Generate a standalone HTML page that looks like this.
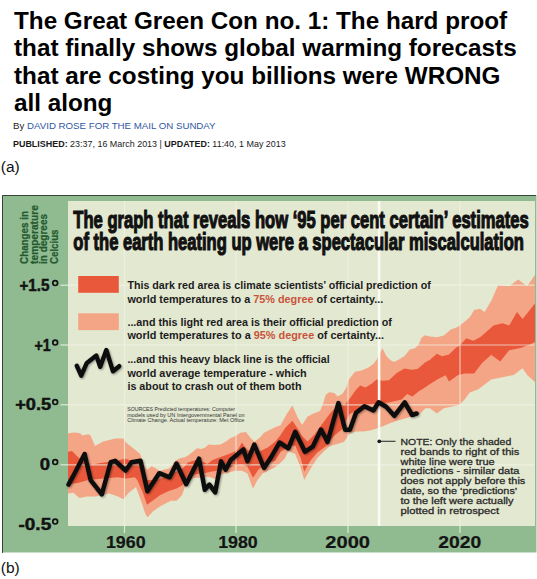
<!DOCTYPE html>
<html><head><meta charset="utf-8"><style>
html,body{margin:0;padding:0;background:#fff;}
body{width:537px;height:579px;position:relative;overflow:hidden;font-family:"Liberation Sans",sans-serif;}
.h{position:absolute;left:14px;top:7px;font-weight:bold;font-size:24.25px;line-height:27.4px;color:#000;white-space:nowrap;}
.by{position:absolute;left:13px;top:120.2px;font-size:9.7px;color:#222;white-space:nowrap;}
.by span{color:#2f58a3;}
.pub{position:absolute;left:13px;top:138.7px;font-size:8.95px;color:#1a1a1a;white-space:nowrap;}
.lab{position:absolute;left:0.8px;font-size:15.5px;color:#111;}
</style></head><body>
<div class="h">The Great Green Con no. 1: The hard proof<br>that finally shows global warming forecasts<br>that are costing you billions were WRONG<br>all along</div>
<div class="by">By <span>DAVID ROSE FOR THE MAIL ON SUNDAY</span></div>
<div class="pub"><b>PUBLISHED:</b> 23:37, 16 March 2013 | <b>UPDATED:</b> 11:40, 1 May 2013</div>
<div class="lab" style="top:157.5px">(a)</div>
<div class="lab" style="top:558.7px">(b)</div>
<svg width="537" height="579" viewBox="0 0 537 579" style="position:absolute;left:0;top:0" font-family="Liberation Sans">
<defs>
<filter id="sh" x="-10%" y="-10%" width="120%" height="130%"><feGaussianBlur in="SourceAlpha" stdDeviation="1.1"/><feOffset dx="0.8" dy="1.2"/><feComponentTransfer><feFuncA type="linear" slope="0.4"/></feComponentTransfer><feMerge><feMergeNode/><feMergeNode in="SourceGraphic"/></feMerge></filter>
</defs>
<rect x="2" y="195" width="534.5" height="357.5" fill="#90bb91"/>
<rect x="68" y="201" width="467" height="325" fill="#e3e8d1"/>
<path d="M2.5 553 V195.5 H536" fill="none" stroke="#354536" stroke-width="1"/>
<polygon points="68.0,433.2 74.9,432.5 80.2,433.2 82.4,435.4 88.3,434.2 90.6,435.4 95.0,445.9 103.2,441.4 115.2,438.4 123.4,438.4 126.3,442.8 133.2,448.3 140.0,453.8 142.1,459.3 145.6,468.0 147.4,469.7 151.6,466.3 155.7,468.3 159.9,471.1 164.0,469.7 169.6,468.3 175.1,460.7 180.6,458.0 184.8,457.3 188.0,455.4 193.2,451.6 197.1,448.3 201.0,449.0 204.8,447.7 208.7,444.4 213.9,445.1 220.4,444.4 225.6,441.8 230.7,438.0 235.0,436.2 240.5,432.8 246.0,432.1 250.2,437.6 254.3,441.8 259.9,437.6 264.0,432.8 269.5,430.0 275.1,427.3 280.6,425.2 286.9,413.8 292.4,405.5 298.0,418.0 302.1,424.9 307.6,416.6 313.1,413.8 320.0,411.0 323.3,403.1 325.7,394.7 329.4,392.3 334.2,392.9 337.8,396.5 342.7,393.5 346.3,387.4 349.1,379.3 355.0,371.7 361.5,370.4 368.0,367.8 373.3,363.9 376.5,360.0 382.4,348.3 386.3,356.1 390.2,360.0 394.1,361.9 399.3,359.3 404.5,356.1 409.8,349.6 415.0,348.3 418.9,344.3 421.5,337.8 425.0,335.2 430.0,336.4 436.9,337.3 443.8,335.6 450.8,329.5 457.7,326.9 464.6,321.7 470.0,317.0 474.1,310.0 480.0,308.8 484.5,312.1 491.2,300.9 498.0,285.2 509.2,286.3 518.2,279.6 527.1,286.3 535.0,275.0 535.0,382.0 527.1,375.0 522.6,368.2 513.7,375.0 502.4,377.2 491.2,379.5 478.4,389.2 469.8,392.6 464.6,399.5 459.4,404.7 452.5,406.5 443.8,408.2 436.9,413.4 430.0,408.2 425.5,408.3 419.6,414.3 409.2,417.2 398.7,420.2 389.8,423.2 379.4,427.7 370.0,430.5 363.2,431.6 356.0,431.6 349.9,433.4 343.9,441.9 330.0,446.0 324.2,451.1 317.3,458.0 310.4,469.1 304.2,480.0 300.7,467.7 295.2,453.9 288.3,451.1 285.0,458.3 279.2,463.9 273.7,468.0 268.1,470.8 262.6,473.5 257.1,480.4 253.0,488.7 247.4,473.5 241.9,470.8 235.0,470.8 226.9,472.9 221.7,474.2 216.5,479.4 208.7,476.8 201.0,477.5 193.2,478.1 188.0,482.0 184.8,487.0 182.0,495.3 176.5,500.8 171.0,500.8 165.4,503.6 159.9,506.4 152.5,511.7 147.7,517.2 145.6,514.5 140.0,498.0 136.0,486.9 129.0,492.4 123.5,499.3 118.0,496.6 109.2,493.5 101.8,495.0 95.8,496.5 86.9,496.5 79.4,498.0 73.4,492.8 68.0,493.5" fill="#f4a586"/>
<polygon points="68.0,451.8 72.0,451.0 77.9,457.0 83.9,462.2 92.8,464.5 100.3,463.0 106.2,462.2 115.2,461.5 124.9,458.6 131.8,460.7 138.7,463.4 142.1,471.7 147.0,480.0 157.1,480.1 164.0,477.3 171.0,473.2 176.5,471.8 183.4,467.7 188.0,462.6 195.8,460.0 203.5,461.9 207.4,463.9 212.6,460.0 219.1,457.4 226.9,454.8 233.3,452.2 238.0,449.6 241.9,442.5 247.4,450.1 251.6,451.4 257.1,452.8 262.6,450.1 268.1,447.3 275.1,441.8 280.6,434.9 285.5,427.6 292.4,420.7 298.0,429.0 302.1,435.9 307.6,441.4 314.5,434.5 321.4,424.9 330.6,412.8 337.8,405.0 345.0,404.4 350.0,398.3 356.0,389.8 360.2,385.4 365.4,387.4 372.0,383.5 376.5,379.5 382.4,380.8 388.9,380.2 396.7,373.0 404.5,368.5 411.1,369.8 417.6,369.1 425.0,362.6 430.0,359.8 436.9,353.7 442.1,356.3 449.0,354.6 455.9,347.7 459.4,345.9 466.3,338.2 473.2,340.8 480.1,337.3 484.5,333.4 493.5,325.6 502.4,323.3 509.2,325.6 517.0,312.1 522.6,318.9 535.0,303.5 535.0,342.0 529.4,344.7 520.4,348.0 509.2,350.3 500.2,361.5 491.2,354.8 481.9,363.2 474.1,373.6 464.6,373.6 457.7,375.3 449.0,381.4 445.6,375.3 438.6,378.8 430.0,384.0 425.0,387.4 418.9,391.3 412.4,396.5 407.1,393.9 401.7,399.4 389.8,402.3 370.0,405.0 356.0,410.5 349.9,414.0 345.1,422.5 341.5,429.8 334.2,435.8 326.9,445.5 317.3,452.5 310.4,460.8 304.2,471.8 300.7,458.0 295.2,445.6 288.3,447.0 280.6,452.0 275.1,461.1 269.5,462.5 264.0,465.2 258.5,469.4 253.0,477.7 247.4,466.6 241.9,464.6 235.0,465.2 226.9,469.0 220.4,470.3 212.6,471.6 204.8,472.9 195.8,474.2 188.0,476.8 182.0,485.6 176.5,488.4 168.2,491.2 159.9,495.3 152.5,500.7 147.0,504.8 142.8,492.4 137.3,480.0 134.6,477.2 126.3,478.6 118.0,477.2 103.2,478.6 88.3,480.1 77.9,483.1 68.0,484.6" fill="#ea583b"/>
<g stroke="#f2f4e8" stroke-width="1.2" opacity="0.7">
<line x1="124.5" y1="201" x2="124.5" y2="526"/>
<line x1="236" y1="201" x2="236" y2="526"/>
<line x1="348" y1="201" x2="348" y2="526"/>
<line x1="460" y1="201" x2="460" y2="526"/>
<line x1="68" y1="285.2" x2="534.5" y2="285.2"/>
<line x1="68" y1="345" x2="534.5" y2="345"/>
<line x1="68" y1="404.8" x2="534.5" y2="404.8"/>
<line x1="68" y1="464.8" x2="534.5" y2="464.8"/>
</g>
<g stroke="#dfe9da" stroke-width="1.2"><line x1="60.5" y1="285.2" x2="68" y2="285.2"/><line x1="60.5" y1="345" x2="68" y2="345"/><line x1="60.5" y1="404.8" x2="68" y2="404.8"/><line x1="60.5" y1="464.8" x2="68" y2="464.8"/><line x1="124.5" y1="526" x2="124.5" y2="533"/><line x1="236" y1="526" x2="236" y2="533"/><line x1="348" y1="526" x2="348" y2="533"/><line x1="460" y1="526" x2="460" y2="533"/></g>
<line x1="379.1" y1="201" x2="379.1" y2="526" stroke="#fbfbf3" stroke-width="2.6"/>
<polyline points="68.5,484.6 74.9,472.7 84.6,454.0 90.6,480.1 101.8,494.3 110.7,462.2 115.2,460.8 125.6,470.5 131.5,462.2 140.5,460.8 147.4,491.2 159.2,473.2 169.6,477.3 176.5,463.5 186.2,484.2 199.0,458.7 204.8,489.8 209.4,484.6 215.2,492.4 221.0,461.3 225.6,469.7 230.7,460.0 243.3,449.4 247.4,461.1 254.3,444.5 264.0,468.0 271.2,457.0 279.5,442.5 288.3,448.3 295.2,431.8 304.9,451.8 312.7,446.7 321.0,429.5 327.5,441.9 338.4,403.1 345.1,429.8 349.9,429.8 356.0,412.8 364.4,406.2 373.4,410.5 378.6,402.3 386.1,406.8 394.3,415.8 404.7,402.3 412.1,415.0 416.6,413.5" fill="none" stroke="#111" stroke-width="4.5" stroke-linejoin="round" stroke-linecap="round" filter="url(#sh)"/>
<polyline points="76.7,365.7 81.2,375.7 86.8,362.9 96.3,355.6 100.2,366.8 106.3,350 113,371.3 119.2,366.2" fill="none" stroke="#111" stroke-width="4.4" stroke-linejoin="round" stroke-linecap="round" filter="url(#sh)"/>
<rect x="78.2" y="276" width="40.6" height="16.8" fill="#ea583b"/>
<rect x="78.2" y="313.3" width="40.6" height="16.8" fill="#f4a586"/>
<text x="73.3" y="228.3" textLength="455.4" lengthAdjust="spacingAndGlyphs" font-size="24.7" font-weight="bold" fill="#111" stroke="#111" stroke-width="1.2">The graph that reveals how ‘95 per cent certain’ estimates</text>
<text x="73.3" y="249.9" textLength="450.6" lengthAdjust="spacingAndGlyphs" font-size="24.7" font-weight="bold" fill="#111" stroke="#111" stroke-width="1.2">of the earth heating up were a spectacular miscalculation</text>
<text x="127.4" y="289.3" textLength="303.4" lengthAdjust="spacingAndGlyphs" font-size="11.4" font-weight="bold" fill="#1c1c1c" >This dark red area is climate scientists’ official prediction of</text>
<text x="127.4" y="302.7" textLength="255.8" lengthAdjust="spacingAndGlyphs" font-size="11.4" font-weight="bold" fill="#1c1c1c" >world temperatures to a <tspan fill='#c8533b'>75% degree</tspan> of certainty...</text>
<text x="127.4" y="326.2" textLength="264.5" lengthAdjust="spacingAndGlyphs" font-size="11.4" font-weight="bold" fill="#1c1c1c" >...and this light red area is their official prediction of</text>
<text x="127.4" y="339.0" textLength="256.7" lengthAdjust="spacingAndGlyphs" font-size="11.4" font-weight="bold" fill="#1c1c1c" >world temperatures to a <tspan fill='#c8533b'>95% degree</tspan> of certainty...</text>
<text x="127.4" y="363.3" textLength="202.3" lengthAdjust="spacingAndGlyphs" font-size="11.4" font-weight="bold" fill="#1c1c1c" >...and this heavy black line is the official</text>
<text x="127.4" y="376.6" textLength="179.2" lengthAdjust="spacingAndGlyphs" font-size="11.4" font-weight="bold" fill="#1c1c1c" >world average temperature - which</text>
<text x="127.4" y="390.0" textLength="174.1" lengthAdjust="spacingAndGlyphs" font-size="11.4" font-weight="bold" fill="#1c1c1c" >is about to crash out of them both</text>
<text x="127.2" y="410.8" textLength="107.7" lengthAdjust="spacingAndGlyphs" font-size="5.8" font-weight="normal" fill="#333" >SOURCES Predicted temperatures: Computer</text>
<text x="127.2" y="416.6" textLength="117.5" lengthAdjust="spacingAndGlyphs" font-size="5.8" font-weight="normal" fill="#333" >models used by UN Intergovernmental Panel on</text>
<text x="127.2" y="422.1" textLength="117.1" lengthAdjust="spacingAndGlyphs" font-size="5.8" font-weight="normal" fill="#333" >Climate Change. Actual temperature: Met Office</text>
<text x="400.5" y="444.6" textLength="110.7" lengthAdjust="spacingAndGlyphs" font-size="9.6" font-weight="normal" fill="#2a2a2a" stroke="#2a2a2a" stroke-width="0.3">NOTE: Only the shaded</text>
<text x="400.5" y="454.6" textLength="118.8" lengthAdjust="spacingAndGlyphs" font-size="9.6" font-weight="normal" fill="#2a2a2a" stroke="#2a2a2a" stroke-width="0.3">red bands to right of this</text>
<text x="400.5" y="464.5" textLength="94.1" lengthAdjust="spacingAndGlyphs" font-size="9.6" font-weight="normal" fill="#2a2a2a" stroke="#2a2a2a" stroke-width="0.3">white line were true</text>
<text x="400.5" y="474.4" textLength="118.8" lengthAdjust="spacingAndGlyphs" font-size="9.6" font-weight="normal" fill="#2a2a2a" stroke="#2a2a2a" stroke-width="0.3">predictions - similar data</text>
<text x="400.5" y="484.4" textLength="124.8" lengthAdjust="spacingAndGlyphs" font-size="9.6" font-weight="normal" fill="#2a2a2a" stroke="#2a2a2a" stroke-width="0.3">does not apply before this</text>
<text x="400.5" y="494.3" textLength="116.7" lengthAdjust="spacingAndGlyphs" font-size="9.6" font-weight="normal" fill="#2a2a2a" stroke="#2a2a2a" stroke-width="0.3">date, so the ‘predictions’</text>
<text x="400.5" y="504.3" textLength="113.1" lengthAdjust="spacingAndGlyphs" font-size="9.6" font-weight="normal" fill="#2a2a2a" stroke="#2a2a2a" stroke-width="0.3">to the left were actually</text>
<text x="400.5" y="514.2" textLength="98.6" lengthAdjust="spacingAndGlyphs" font-size="9.6" font-weight="normal" fill="#2a2a2a" stroke="#2a2a2a" stroke-width="0.3">plotted in retrospect</text>
<text x="19.4" y="290.7" textLength="30.1" lengthAdjust="spacingAndGlyphs" font-size="16.3" font-weight="bold" fill="#121212" stroke="#121212" stroke-width="0.45">+1.5</text>
<text x="34.4" y="350.7" textLength="16.2" lengthAdjust="spacingAndGlyphs" font-size="16.3" font-weight="bold" fill="#121212" stroke="#121212" stroke-width="0.45">+1</text>
<text x="15.2" y="410.1" textLength="36.0" lengthAdjust="spacingAndGlyphs" font-size="16.3" font-weight="bold" fill="#121212" stroke="#121212" stroke-width="0.45">+0.5</text>
<text x="39.8" y="470.1" textLength="10.3" lengthAdjust="spacingAndGlyphs" font-size="16.3" font-weight="bold" fill="#121212" stroke="#121212" stroke-width="0.45">0</text>
<text x="18.5" y="530.1" textLength="32.7" lengthAdjust="spacingAndGlyphs" font-size="16.3" font-weight="bold" fill="#121212" stroke="#121212" stroke-width="0.45">-0.5</text>
<text x="105.9" y="547.6" textLength="39.7" lengthAdjust="spacingAndGlyphs" font-size="16.3" font-weight="bold" fill="#141414" stroke="#141414" stroke-width="0.2">1960</text>
<text x="218.2" y="547.6" textLength="39.6" lengthAdjust="spacingAndGlyphs" font-size="16.3" font-weight="bold" fill="#141414" stroke="#141414" stroke-width="0.2">1980</text>
<text x="325.3" y="547.6" textLength="44.7" lengthAdjust="spacingAndGlyphs" font-size="16.3" font-weight="bold" fill="#141414" stroke="#141414" stroke-width="0.2">2000</text>
<text x="438.2" y="547.6" textLength="43.0" lengthAdjust="spacingAndGlyphs" font-size="16.3" font-weight="bold" fill="#141414" stroke="#141414" stroke-width="0.2">2020</text>
<text transform="translate(27.9,263.9) rotate(-90)" textLength="52.800000000000004" lengthAdjust="spacingAndGlyphs" font-size="10.4" font-weight="bold" fill="#25592f" stroke="#25592f" stroke-width="0.25">Changes in</text>
<text transform="translate(38.0,263.9) rotate(-90)" textLength="58.7" lengthAdjust="spacingAndGlyphs" font-size="10.4" font-weight="bold" fill="#25592f" stroke="#25592f" stroke-width="0.25">temperature</text>
<text transform="translate(47.2,263.9) rotate(-90)" textLength="49.9" lengthAdjust="spacingAndGlyphs" font-size="10.4" font-weight="bold" fill="#25592f" stroke="#25592f" stroke-width="0.25">in degrees</text>
<text transform="translate(58.1,263.9) rotate(-90)" textLength="34.300000000000004" lengthAdjust="spacingAndGlyphs" font-size="10.4" font-weight="bold" fill="#25592f" stroke="#25592f" stroke-width="0.25">Celcius</text>
<circle cx="55.2" cy="283.1" r="2.4" fill="none" stroke="#121212" stroke-width="1.7"/><circle cx="55.2" cy="342.6" r="2.4" fill="none" stroke="#121212" stroke-width="1.7"/><circle cx="55.2" cy="402.1" r="2.4" fill="none" stroke="#121212" stroke-width="1.7"/><circle cx="55.2" cy="462.1" r="2.4" fill="none" stroke="#121212" stroke-width="1.7"/><circle cx="55.2" cy="521.6" r="2.4" fill="none" stroke="#121212" stroke-width="1.7"/>
<g stroke="#333" stroke-width="1.1"><line x1="379" y1="441.3" x2="395.5" y2="441.3"/></g>
<circle cx="379.3" cy="441.3" r="1.9" fill="#1a1a1a"/>
</svg>
</body></html>
